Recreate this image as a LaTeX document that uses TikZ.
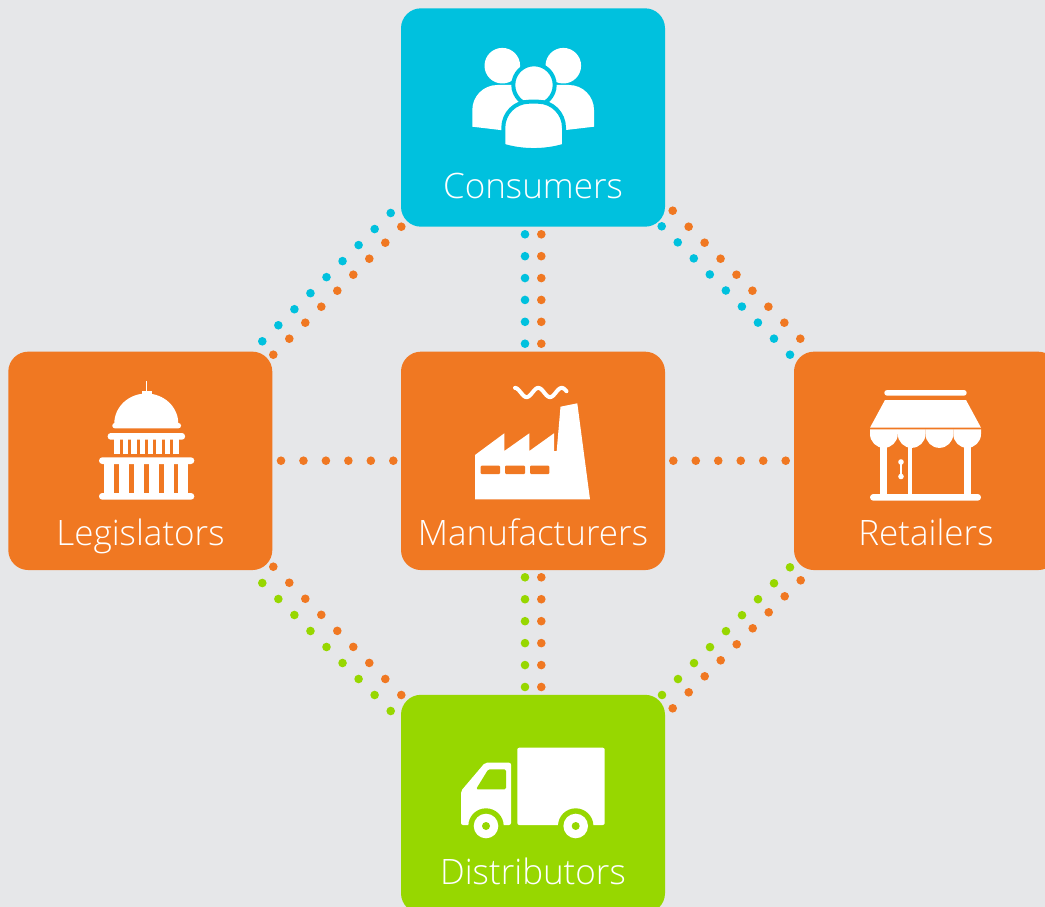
\documentclass[tikz,border=0pt]{standalone}
\usepackage{fontspec}
\IfFontExistsTF{Open Sans Light}{\setmainfont{Open Sans Light}}{\setmainfont{Open Sans}}
\usetikzlibrary{calc}
\definecolor{bgc}{HTML}{E6E7E9}
\definecolor{cy}{HTML}{00C1DE}
\definecolor{orc}{HTML}{F07822}
\definecolor{grn}{HTML}{97D700}
\newcommand\dotline[4]{\foreach \i in {0,...,#3}{\fill[#4] ($(#1)!\i/#3!(#2)$) circle (4.3);}}
\tikzset{
  box/.style={rounded corners=20pt, minimum width=264pt, minimum height=218.4pt, inner sep=0pt, draw=none},
  lbl/.style={text=white, font=\fontsize{35}{40}\selectfont, inner sep=0pt, anchor=base},
  ico/.style={fill=white, draw=none}
}
\begin{document}
\begin{tikzpicture}[x=1pt,y=-1pt]
\useasboundingbox (0,0) rectangle (1045,907);
\clip (0,0) rectangle (1045,907);
\fill[bgc] (0,0) rectangle (1045,907);

% dot connector end points
\coordinate (a1) at (390.7,213);   \coordinate (a2) at (262.3,341.3);
\coordinate (b1) at (401.3,226.7); \coordinate (b2) at (273.3,354.7);
\coordinate (c1) at (672.7,210.7); \coordinate (c2) at (800.3,338.7);
\coordinate (d1) at (661.7,226.3); \coordinate (d2) at (790,354.7);
\coordinate (e1) at (273.3,566.7); \coordinate (e2) at (401.3,695);
\coordinate (f1) at (262.3,583);   \coordinate (f2) at (390.7,711);
\coordinate (g1) at (790,567.3);   \coordinate (g2) at (662,695);
\coordinate (h1) at (800.7,580.3); \coordinate (h2) at (672.7,708.3);
\coordinate (v1) at (525,234.3);   \coordinate (v2) at (525,343.7);
\coordinate (w1) at (541.3,234.3); \coordinate (w2) at (541.3,343.7);
\coordinate (v3) at (525,577.3);   \coordinate (v4) at (525,687);
\coordinate (w3) at (541.3,577.3); \coordinate (w4) at (541.3,687);
\coordinate (l1) at (281,460.7);   \coordinate (l2) at (393.3,460.7);
\coordinate (r1) at (673.3,460.7); \coordinate (r2) at (785.7,460.7);

\dotline{a1}{a2}{8}{cy}
\dotline{b1}{b2}{8}{orc}
\dotline{c1}{c2}{8}{orc}
\dotline{d1}{d2}{8}{cy}
\dotline{e1}{e2}{8}{orc}
\dotline{f1}{f2}{8}{grn}
\dotline{g1}{g2}{8}{grn}
\dotline{h1}{h2}{8}{orc}
\dotline{v1}{v2}{5}{cy}
\dotline{w1}{w2}{5}{orc}
\dotline{v3}{v4}{5}{grn}
\dotline{w3}{w4}{5}{orc}
\dotline{l1}{l2}{5}{orc}
\dotline{r1}{r2}{5}{orc}

% boxes
\node[box, fill=cy]  (cons) at (533,117.5) {};
\node[box, fill=orc] (leg)  at (140.3,460.85) {};
\node[box, fill=orc] (man)  at (533,460.85) {};
\node[box, fill=orc] (ret)  at (926,460.85) {};
\node[box, fill=grn] (dis)  at (533,804) {};

% labels
\node[lbl] (consl) at (533,198.3) {Consumers};
\node[lbl] (legl)  at (140.5,545) {Legislators};
\node[lbl] (manl)  at (533,545) {Manufacturers};
\node[lbl] (retl)  at (926,545) {Retailers};
\node[lbl] (disl)  at (533,884.3) {Distributors};

% ---- consumers icon
\fill[white] (502.3,65.7) circle (17.8);
\fill[white] (563.3,65.7) circle (17.8);
\fill[white] (472.3,126.7) -- (472.3,110) arc[start angle=180,end angle=270,radius=25] -- (534,85) -- (534,134) -- cycle;
\fill[white] (594,126.7) -- (594,110) arc[start angle=360,end angle=270,radius=25] -- (532,85) -- (532,134) -- cycle;
\filldraw[fill=white, draw=cy, line width=4] (534,85) circle (20.7);
\filldraw[fill=white, draw=cy, line width=4] (503.3,145.7) -- (503.3,127.7) arc[start angle=180,end angle=270,radius=26] -- (538,101.7) arc[start angle=270,end angle=360,radius=26] -- (564,145.7) .. controls (545,151.5) and (522.3,151.5) .. cycle;

% ---- legislators icon
\draw[white, line width=1.5] (146.7,381.3) -- (146.7,392);
\fill[white] (141.7,390.7) rectangle (151.7,395);
\fill[white] (114.3,423.5) arc[start angle=180,end angle=360,x radius=32,y radius=30] -- cycle;
\fill[white, rounded corners=2.5] (112.3,423) rectangle (181,428.3);
\fill[white, rounded corners=3] (107.7,433) rectangle (185,439.7);
\foreach \i in {0,...,7}{\fill[white] ({114.3+\i*8.4},439) rectangle ++(5.4,15.3);}
\fill[white, rounded corners=3.3] (99,457.3) rectangle (194.3,464);
\foreach \i in {0,...,5}{\fill[white] ({104.3+\i*14.8},463.5) rectangle ++(10,30);}
\fill[white, rounded corners=3.3] (99,493) rectangle (194.3,499.7);

% ---- manufacturers icon
\fill[white] (475,499.3) -- (475,455) -- (504.3,433.3) -- (504.3,451) -- (529.3,433.3) -- (529.3,451) -- (554,433.3) -- (554,451) -- (556.7,451) -- (560.5,406.7) -- (577.3,403.3) -- (590,499.3) -- cycle;
\fill[orc, rounded corners=1] (480.7,465.7) rectangle (500,474);
\fill[orc, rounded corners=1] (505,465.7) rectangle (525,474);
\fill[orc, rounded corners=1] (530,465.7) rectangle (549.3,474);
\draw[white, line width=4, line cap=round] plot[domain=515:566.5, samples=80] (\x, {392.5-4.6*cos(360*(\x-538.3)/23.4)});

% ---- retailers icon
\fill[white, rounded corners=2.8] (884.3,390) rectangle (966.7,395.7);
\fill[white] (885,400) -- (966,400) -- (981,427.7) -- (870,427.7) -- cycle;
\foreach \i in {0,...,3}{\fill[white] ({870+27.75*\i},429.3) -- ({870+27.75*(\i+1)},429.3) -- ({870+27.75*(\i+1)},434) arc[start angle=0,end angle=180,radius=13.875] -- cycle;}
\fill[white] (880,440) rectangle (887.3,494);
\fill[white] (907.7,440) rectangle (911.9,494);
\fill[white] (964,440) rectangle (970.7,494);
\draw[white, line width=2] (901,462) -- (901,476.5);
\fill[white] (901,462) circle (2.8);
\fill[white] (901,476.5) circle (2.8);
\fill[white, rounded corners=3.3] (870,494) rectangle (981,500.7);

% ---- distributors icon
\fill[white, rounded corners=2] (517.3,747.7) rectangle (604.7,825);
\fill[white, rounded corners=2] (461,825) -- (461,791) -- (485,762.7) -- (511,762.7) -- (511,825) -- cycle;
\fill[grn, rounded corners=1.5] (476,789.3) -- (488.3,769.3) -- (506,769.3) -- (506,789.3) -- cycle;
\fill[grn] (486,826) circle (17.7);
\fill[grn] (575.7,826) circle (17.7);
\fill[white] (486,826) circle (12.3);
\fill[white] (575.7,826) circle (12.3);
\fill[grn] (486,826) circle (4);
\fill[grn] (575.7,826) circle (4);
\end{tikzpicture}
\end{document}
